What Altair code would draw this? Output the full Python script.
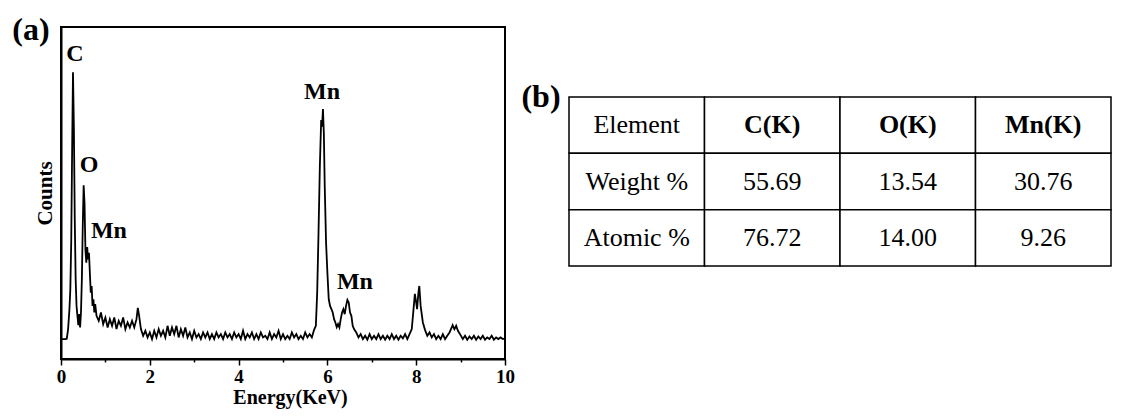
import altair as alt
import pandas as pd

# ---------------- EDS spectrum (a) ----------------
energy = [
    0.00, 0.05, 0.10, 0.13, 0.16, 0.19, 0.21, 0.23, 0.25, 0.27, 0.29, 0.31, 0.33, 0.35,
    0.37, 0.39, 0.41, 0.43, 0.45, 0.47, 0.49, 0.51, 0.53, 0.55, 0.57, 0.59, 0.61, 0.63,
    0.65, 0.67, 0.69, 0.71, 0.73, 0.75, 0.77, 0.80,
    0.85, 0.90, 0.95, 1.00, 1.05, 1.10, 1.15, 1.20, 1.25, 1.30, 1.35, 1.40, 1.45, 1.50,
    1.55, 1.60, 1.65, 1.70, 1.73, 1.76, 1.80, 1.85,
    1.90, 1.95, 2.00, 2.05, 2.10, 2.15, 2.20, 2.25, 2.30, 2.35, 2.40, 2.45, 2.50, 2.55,
    2.60, 2.65, 2.70, 2.75, 2.80, 2.85, 2.90, 2.95, 3.00, 3.05, 3.10, 3.15, 3.20, 3.25,
    3.30, 3.35, 3.40, 3.45, 3.50, 3.55, 3.60, 3.65, 3.70, 3.75, 3.80, 3.85, 3.90, 3.95,
    4.00, 4.05, 4.10, 4.15, 4.20, 4.25, 4.30, 4.35, 4.40, 4.45, 4.50, 4.55, 4.60, 4.65,
    4.70, 4.75, 4.80, 4.85, 4.90, 4.95, 5.00, 5.05, 5.10, 5.15, 5.20, 5.25, 5.30, 5.35,
    5.40, 5.45, 5.50, 5.55, 5.60, 5.65, 5.70,
    5.74, 5.77, 5.80, 5.83, 5.86, 5.88, 5.90, 5.92, 5.94, 5.97, 6.00, 6.03, 6.06, 6.09,
    6.12, 6.15, 6.18, 6.21, 6.24, 6.27, 6.30, 6.33, 6.36, 6.39, 6.42, 6.45, 6.48, 6.51,
    6.54, 6.57, 6.60, 6.65, 6.70, 6.75, 6.80, 6.85, 6.90, 6.95, 7.00, 7.05, 7.10, 7.15,
    7.20, 7.25, 7.30, 7.35, 7.40, 7.45, 7.50, 7.55, 7.60, 7.65, 7.70, 7.75, 7.80, 7.85,
    7.90, 7.94, 7.97, 8.00, 8.02, 8.05, 8.07, 8.10, 8.12, 8.15, 8.20, 8.25, 8.30, 8.35,
    8.40, 8.45, 8.50, 8.55, 8.60, 8.65, 8.70, 8.75, 8.80, 8.82, 8.86, 8.90, 8.94, 9.00,
    9.05, 9.10, 9.15, 9.20, 9.25, 9.30, 9.35, 9.40, 9.45, 9.50, 9.55, 9.60, 9.65, 9.70,
    9.75, 9.80, 9.85, 9.90, 9.95, 10.00,
]
counts = [
    6.0, 6.0, 6.0, 6.1, 9.0, 15.0, 21.0, 35.0, 62.0, 86.4, 70.0, 42.0, 24.0, 16.0,
    13.0, 10.2, 13.5, 9.5, 14.0, 24.0, 40.0, 52.3, 47.0, 33.0, 29.0, 33.7, 30.0, 32.0,
    26.0, 20.0, 22.0, 16.0, 18.0, 14.0, 16.5, 13.0,
    11.5, 14.0, 10.5, 12.5, 9.5, 12.0, 10.0, 12.5, 9.0, 11.5, 10.0, 12.5, 9.0, 11.0,
    9.5, 11.5, 9.5, 12.0, 15.4, 13.0, 9.0, 7.0,
    8.5, 6.5, 8.0, 6.0, 8.5, 6.5, 9.0, 7.0, 8.5, 6.5, 10.0, 7.0, 9.5, 7.5,
    10.0, 6.5, 9.0, 7.0, 9.5, 6.5, 8.0, 6.0, 8.5, 6.5, 7.5, 6.0, 8.0, 6.5,
    8.0, 6.0, 7.5, 6.0, 8.0, 6.5, 7.5, 6.0, 8.0, 6.5, 7.5, 6.0, 8.0, 6.5,
    7.5, 6.0, 8.5, 6.0, 7.5, 6.5, 8.0, 6.0, 7.5, 6.0, 8.0, 6.5, 7.0, 6.0,
    8.0, 6.0, 7.5, 6.5, 8.5, 6.0, 7.5, 6.0, 7.0, 6.0, 8.0, 6.5, 7.5, 6.0,
    7.0, 6.0, 8.0, 6.5, 7.5, 6.5, 8.8,
    10.0, 20.0, 38.0, 58.0, 72.0, 70.0, 75.3, 68.0, 52.0, 35.0, 26.0, 18.0, 16.0, 15.0,
    14.0, 12.0, 11.0, 9.6, 10.5, 9.5, 12.0, 14.0, 15.0, 13.5, 16.0, 17.8, 17.0, 14.0,
    13.0, 10.0, 9.0, 8.0, 6.5, 7.5, 6.0, 7.0, 5.8, 7.5, 6.0, 7.0, 6.0, 7.5,
    6.0, 7.0, 5.8, 7.0, 6.0, 7.5, 6.0, 7.0, 5.8, 7.0, 6.2, 7.5, 6.0, 7.5,
    9.0, 15.0, 19.6, 17.0, 15.0, 20.0, 22.0, 16.0, 14.0, 11.0, 8.7, 7.0, 8.0, 6.5,
    7.5, 6.0, 7.0, 6.0, 7.5, 6.0, 7.0, 8.0, 9.5, 10.2, 9.0, 10.0, 8.5, 7.2,
    6.0, 7.0, 5.8, 6.8, 6.0, 7.0, 5.8, 6.8, 6.0, 7.0, 5.8, 6.5, 6.0, 7.0,
    5.8, 6.5, 6.0, 6.5, 6.0, 6.2,
]

peak_labels = ["C", "O", "Mn", "Mn", "Mn"]
peak_label_energy = [0.315, 0.63, 1.08, 5.88, 6.62]
peak_label_counts = [92.0, 58.4, 38.5, 80.4, 23.2]

x_ticks = [0, 1, 2, 3, 4, 5, 6, 7, 8, 9, 10]

# ---------------- Table (b) ----------------
header = ["Element", "C(K)", "O(K)", "Mn(K)"]
row_names = ["Weight %", "Atomic %"]
weight_pct = [55.69, 13.54, 30.76]
atomic_pct = [76.72, 14.00, 9.26]

FONT = "Liberation Serif"

spec_df = pd.DataFrame({"energy": energy, "counts": counts})
lab_df = pd.DataFrame({"label": peak_labels, "energy": peak_label_energy,
                       "counts": peak_label_counts})

xs = alt.Scale(domain=[0, 10], nice=False, zero=False)
ys = alt.Scale(domain=[0, 100], nice=False, zero=False)

x_axis = alt.Axis(
    values=x_ticks, grid=False, title="Energy(KeV)", labelFlush=False,
    labelExpr="datum.value % 2 === 0 ? datum.label : ''",
    tickSize={"condition": {"test": "datum.value % 2 === 0", "value": 6}, "value": 3},
    tickColor="black", tickWidth=1.5, domainColor="black", domainWidth=2,
    labelFont=FONT, labelFontSize=19, labelFontWeight="bold", labelColor="black",
    labelPadding=2, titleFont=FONT, titleFontSize=20, titleFontWeight="bold",
    titleColor="black", titlePadding=1, titleX=229,
)
y_axis = alt.Axis(
    labels=False, ticks=False, grid=False, title="Counts",
    domainColor="black", domainWidth=2,
    titleFont=FONT, titleFontSize=21, titleFontWeight="bold", titleColor="black",
    titlePadding=6,
)

line = alt.Chart(spec_df).mark_line(color="black", strokeWidth=1.8).encode(
    x=alt.X("energy:Q", scale=xs, axis=x_axis),
    y=alt.Y("counts:Q", scale=ys, axis=y_axis),
)
peak_text = alt.Chart(lab_df).mark_text(
    font=FONT, fontSize=24, fontWeight="bold", color="black",
    align="center", baseline="middle",
).encode(
    x=alt.X("energy:Q", scale=xs),
    y=alt.Y("counts:Q", scale=ys),
    text="label:N",
)
tag_a = alt.Chart(pd.DataFrame({"t": ["(a)"]})).mark_text(
    font=FONT, fontSize=32, fontWeight="bold", color="black",
    align="center", baseline="middle",
).encode(x=alt.value(-30), y=alt.value(3), text="t:N")

left = alt.layer(line, peak_text, tag_a).properties(
    width=444, height=332,
    view=alt.ViewBackground(stroke="black", strokeWidth=2),
)

cells = []
for c, h in enumerate(header):
    cells.append({"row": 0, "col": c, "text": h, "bold": c > 0})
for r, (name, vals) in enumerate(zip(row_names, [weight_pct, atomic_pct]), start=1):
    cells.append({"row": r, "col": 0, "text": name, "bold": False})
    for c, v in enumerate(vals, start=1):
        cells.append({"row": r, "col": c, "text": f"{v:.2f}", "bold": False})
tdf = pd.DataFrame(cells)
tdf["col2"] = tdf["col"] + 1
tdf["row2"] = tdf["row"] + 1
tdf["cx"] = tdf["col"] + 0.5
tdf["cy"] = tdf["row"] + 0.5

tx = alt.Scale(domain=[0, 4], nice=False, zero=False)
ty = alt.Scale(domain=[-1.243, 4.651], reverse=True, nice=False, zero=False)

rects = alt.Chart(tdf).mark_rect(fill="white", stroke="black", strokeWidth=1.5).encode(
    x=alt.X("col:Q", scale=tx, axis=None), x2="col2:Q",
    y=alt.Y("row:Q", scale=ty, axis=None), y2="row2:Q",
)
txt_norm = alt.Chart(tdf).transform_filter("!datum.bold").mark_text(
    font=FONT, fontSize=26, color="black",
    align="center", baseline="middle",
).encode(
    x=alt.X("cx:Q", scale=tx, axis=None),
    y=alt.Y("cy:Q", scale=ty, axis=None),
    text="text:N",
)
txt_bold = alt.Chart(tdf).transform_filter("datum.bold").mark_text(
    font=FONT, fontSize=26, fontWeight="bold", color="black",
    align="center", baseline="middle",
).encode(
    x=alt.X("cx:Q", scale=tx, axis=None),
    y=alt.Y("cy:Q", scale=ty, axis=None),
    text="text:N",
)
tag_b = alt.Chart(pd.DataFrame({"t": ["(b)"]})).mark_text(
    font=FONT, fontSize=32, fontWeight="bold", color="black",
    align="center", baseline="middle",
).encode(x=alt.value(-28), y=alt.value(70), text="t:N")

right = alt.layer(rects, txt_norm, txt_bold, tag_b).properties(
    width=542, height=332,
    view=alt.ViewBackground(strokeWidth=0),
)

chart = alt.hconcat(left, right, spacing=5).properties(
    padding={"left": 3, "top": 5, "right": 0, "bottom": 2},
    background="white",
).configure_view(strokeWidth=0)

chart.save("out.html", embed_options={"renderer": "svg", "actions": False})
